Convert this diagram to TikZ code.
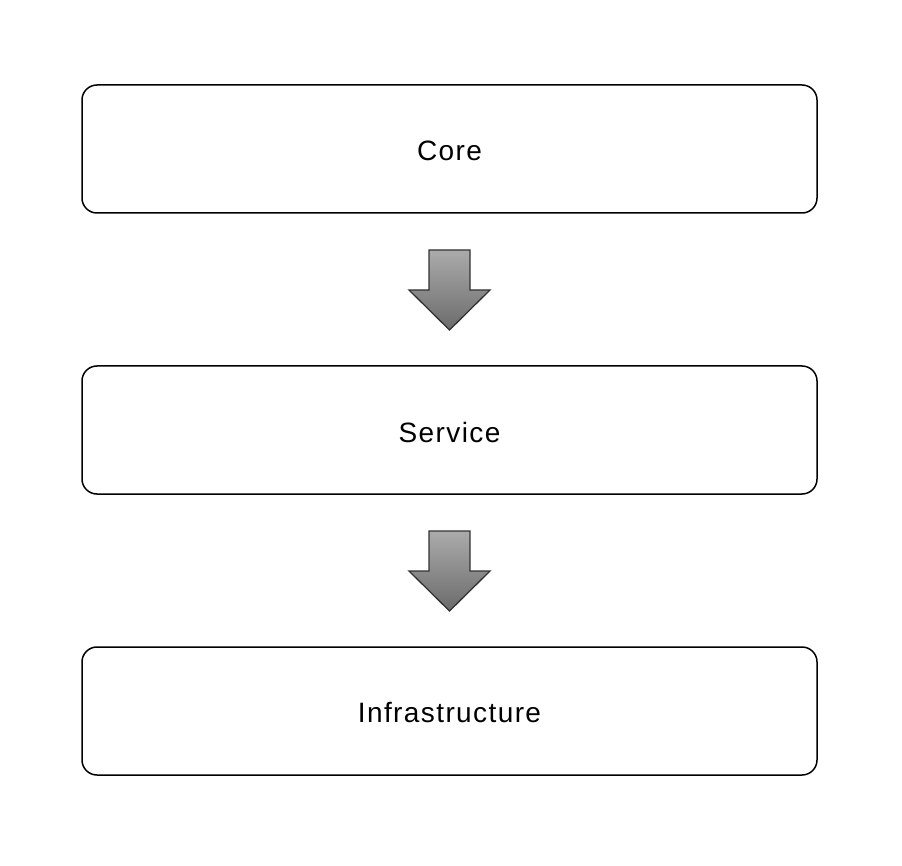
\documentclass[tikz,border=0pt]{standalone}
\usepackage{fontspec}
\setmainfont{Liberation Sans}[LetterSpace=5]
\newcommand{\lowtext}[1]{\raisebox{-2pt}[\height][\depth]{#1}}
\begin{document}
\begin{tikzpicture}[x=1pt,y=-1pt,
  layer/.style={draw=black, line width=1.5pt, rounded corners=15pt, minimum width=735pt, minimum height=128pt, inner sep=0pt, font=\fontsize{28}{32}\selectfont},
  arrowshape/.style={draw=black!80, line width=1.3pt, line join=miter, top color=black!33, bottom color=black!58}]
\useasboundingbox (0,0) rectangle (902,866);
\node[layer] (core) at (449.5,149) {\lowtext{Core}};
\node[layer] (service) at (449.5,430) {\lowtext{Service}};
\node[layer] (infra) at (449.5,711) {\lowtext{Infrastructure}};
\coordinate (a1) at (449.5,250);
\coordinate (a2) at (449.5,531);
\foreach \a in {a1,a2}
  \draw[arrowshape] (\a) ++(-20.5,0) -- ++(41,0) -- ++(0,40) -- ++(20,0) -- ++(-40.5,40) -- ++(-40.5,-40) -- ++(20,0) -- cycle;
\end{tikzpicture}
\end{document}
